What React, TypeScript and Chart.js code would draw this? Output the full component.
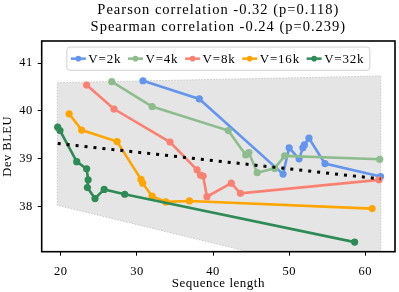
import React, { useEffect, useRef } from 'react';
import { Chart, registerables } from 'chart.js';

Chart.register(...registerables);

const FONT = '"Liberation Serif", "Times New Roman", serif';

const TITLE_LINES = ['Pearson correlation -0.32 (p=0.118)', 'Spearman correlation -0.24 (p=0.239)'];
const X_LABEL = 'Sequence length';
const Y_LABEL = 'Dev BLEU';
const X_TICKS = [20, 30, 40, 50, 60];
const Y_TICKS = [38, 39, 40, 41];
const X_MIN = 17.5;
const X_MAX = 63.9;
const Y_MIN = 37.06;
const Y_MAX = 41.46;

const SERIES_NAMES = ['V=2k', 'V=4k', 'V=8k', 'V=16k', 'V=32k'];
const SERIES_COLORS = ['#6495ED', '#8FBC8F', '#FA8072', '#FFA500', '#2E8B57'];

const V2K_LEN = [30.8, 38.2, 49.2, 50.0, 51.3, 51.8, 52.0, 52.6, 54.7, 62.0];
const V2K_BLEU = [40.63, 40.25, 38.68, 39.23, 39.0, 39.23, 39.29, 39.43, 38.9, 38.63];

const V4K_LEN = [26.7, 32.0, 42.0, 44.3, 44.7, 45.8, 48.1, 49.4, 61.9];
const V4K_BLEU = [40.61, 40.09, 39.59, 39.08, 39.13, 38.71, 38.8, 39.06, 38.99];

const V8K_LEN = [23.4, 27.0, 34.35, 37.9, 38.35, 38.7, 39.2, 42.4, 43.6, 61.8];
const V8K_BLEU = [40.54, 40.04, 39.35, 38.77, 38.66, 38.64, 38.21, 38.49, 38.28, 38.56];

const V16K_LEN = [21.1, 22.75, 27.4, 30.54, 30.76, 32.0, 33.8, 36.9, 60.9];
const V16K_BLEU = [39.94, 39.6, 39.36, 38.57, 38.49, 38.22, 38.1, 38.12, 37.96];

const V32K_LEN = [19.6, 19.9, 22.1, 23.4, 23.6, 23.5, 24.5, 25.7, 28.4, 58.6];
const V32K_BLEU = [39.66, 39.59, 38.94, 38.79, 38.56, 38.4, 38.17, 38.36, 38.26, 37.26];

const SERIES_LEN = [V2K_LEN, V4K_LEN, V8K_LEN, V16K_LEN, V32K_LEN];
const SERIES_BLEU = [V2K_BLEU, V4K_BLEU, V8K_BLEU, V16K_BLEU, V32K_BLEU];

const TREND_LEN = [19.6, 62.0];
const TREND_BLEU = [39.32, 38.58];

const BAND_LEN = [19.55, 62.03, 62.03, 19.55];
const BAND_BLEU = [40.59, 40.73, 36.39, 38.03];

const toPoints = (xs: number[], ys: number[]) => xs.map((x, i) => ({ x, y: ys[i] }));

const bandPlugin = {
  id: 'band',
  beforeDatasetsDraw(chart: any) {
    const { ctx, chartArea, scales } = chart;
    ctx.save();
    ctx.beginPath();
    ctx.rect(chartArea.left, chartArea.top, chartArea.right - chartArea.left, chartArea.bottom - chartArea.top);
    ctx.clip();
    ctx.beginPath();
    BAND_LEN.forEach((x, i) => {
      const px = scales.x.getPixelForValue(x);
      const py = scales.y.getPixelForValue(BAND_BLEU[i]);
      if (i === 0) ctx.moveTo(px, py);
      else ctx.lineTo(px, py);
    });
    ctx.closePath();
    ctx.fillStyle = '#e5e5e5';
    ctx.fill();
    ctx.setLineDash([1.5, 1.5]);
    ctx.strokeStyle = '#c8c8c8';
    ctx.lineWidth = 1;
    ctx.stroke();
    ctx.restore();
  },
};

const framePlugin = {
  id: 'frame',
  afterDraw(chart: any) {
    const { ctx, chartArea } = chart;
    ctx.save();
    ctx.strokeStyle = '#000';
    ctx.lineWidth = 1.6;
    ctx.strokeRect(chartArea.left, chartArea.top, chartArea.right - chartArea.left, chartArea.bottom - chartArea.top);
    ctx.restore();
  },
};

const titlePlugin = {
  id: 'twoLineTitle',
  afterDraw(chart: any) {
    const { ctx, chartArea } = chart;
    const cx = (chartArea.left + chartArea.right) / 2;
    ctx.save();
    ctx.fillStyle = '#000';
    ctx.font = `14.5px ${FONT}`;
    (ctx as any).letterSpacing = '1px';
    ctx.textAlign = 'center';
    ctx.textBaseline = 'alphabetic';
    ctx.fillText(TITLE_LINES[0], cx, 14);
    ctx.fillText(TITLE_LINES[1], cx, 30.5);
    ctx.restore();
  },
};

const legendPlugin = {
  id: 'boxLegend',
  afterDatasetsDraw(chart: any) {
    const { ctx, chartArea } = chart;
    ctx.save();
    ctx.font = `13px ${FONT}`;
    (ctx as any).letterSpacing = '0.8px';
    const handle = 15;
    const gapText = 2.5;
    const gapItem = 6.7;
    const padL = 4;
    const padR = 5.5;
    const widths = SERIES_NAMES.map((n) => ctx.measureText(n).width);
    let total = padL + padR + gapItem * (SERIES_NAMES.length - 1);
    widths.forEach((w) => (total += handle + gapText + w));
    const left = (chartArea.left + chartArea.right) / 2 - total / 2;
    const top = chartArea.top + 6;
    const h = 23.3;
    ctx.beginPath();
    (ctx as any).roundRect(left, top, total, h, 3);
    ctx.fillStyle = 'rgba(255,255,255,0.85)';
    ctx.fill();
    ctx.strokeStyle = '#d0d0d0';
    ctx.lineWidth = 1;
    ctx.stroke();
    let x = left + padL;
    const cy = top + h / 2;
    SERIES_NAMES.forEach((name, i) => {
      ctx.strokeStyle = SERIES_COLORS[i];
      ctx.lineWidth = 2.5;
      ctx.beginPath();
      ctx.moveTo(x, cy);
      ctx.lineTo(x + handle, cy);
      ctx.stroke();
      ctx.fillStyle = SERIES_COLORS[i];
      ctx.beginPath();
      ctx.arc(x + handle / 2, cy, 2.8, 0, Math.PI * 2);
      ctx.fill();
      x += handle + gapText;
      ctx.fillStyle = '#000';
      ctx.textAlign = 'left';
      ctx.textBaseline = 'alphabetic';
      ctx.fillText(name, x, top + 15.7);
      x += widths[i] + gapItem;
    });
    ctx.restore();
  },
};

const spacingPlugin = {
  id: 'spacing',
  beforeDraw(chart: any) {
    (chart.ctx as any).letterSpacing = '0.5px';
  },
};

export default function App() {
  const canvasRef = useRef<HTMLCanvasElement>(null);

  useEffect(() => {
    document.body.style.margin = '0';
    const canvas = canvasRef.current;
    if (!canvas) return;
    const seriesSets = SERIES_NAMES.map((name, i) => ({
      label: name,
      data: toPoints(SERIES_LEN[i], SERIES_BLEU[i]),
      showLine: true,
      borderColor: SERIES_COLORS[i],
      backgroundColor: SERIES_COLORS[i],
      borderWidth: 2.6,
      pointRadius: 3.6,
      pointHoverRadius: 3.6,
      pointBorderWidth: 0,
      tension: 0,
      order: SERIES_NAMES.length - i,
    }));
    const chart = new Chart(canvas, {
      type: 'scatter',
      data: {
        datasets: [
          ...seriesSets,
          {
            label: 'trend',
            data: toPoints(TREND_LEN, TREND_BLEU),
            showLine: true,
            borderColor: '#000',
            borderWidth: 3,
            borderDash: [3, 6],
            pointRadius: 0,
            tension: 0,
            order: 0,
          } as any,
        ],
      },
      options: {
        animation: false,
        responsive: true,
        maintainAspectRatio: false,
        layout: { padding: { top: 41, right: 4, left: 0, bottom: 0 } },
        plugins: {
          legend: { display: false },
          title: { display: false },
          tooltip: { enabled: false },
        },
        scales: {
          x: {
            type: 'linear',
            min: X_MIN,
            max: X_MAX,
            afterBuildTicks: (s: any) => {
              s.ticks = X_TICKS.map((v) => ({ value: v }));
            },
            afterFit: (s: any) => {
              s.height = 40.3;
            },
            grid: { display: true, drawOnChartArea: false, drawTicks: true, tickLength: 4, color: '#000', lineWidth: 1 },
            border: { display: false },
            ticks: { color: '#000', font: { family: FONT, size: 12.5 }, padding: 9, maxRotation: 0, autoSkip: false },
            title: { display: true, text: X_LABEL, color: '#000', font: { family: FONT, size: 13 }, padding: { top: 0, bottom: 1 } },
          },
          y: {
            type: 'linear',
            min: Y_MIN,
            max: Y_MAX,
            afterBuildTicks: (s: any) => {
              s.ticks = Y_TICKS.map((v) => ({ value: v }));
            },
            afterFit: (s: any) => {
              s.width = 41.7;
            },
            grid: { display: true, drawOnChartArea: false, drawTicks: true, tickLength: 4, color: '#000', lineWidth: 1 },
            border: { display: false },
            ticks: { color: '#000', font: { family: FONT, size: 12.5 }, padding: 5, autoSkip: false },
            title: { display: true, text: Y_LABEL, color: '#000', font: { family: FONT, size: 12.5 }, padding: { top: 0, bottom: 0 } },
          },
        },
      },
      plugins: [spacingPlugin, bandPlugin, legendPlugin, framePlugin, titlePlugin],
    });
    return () => chart.destroy();
  }, []);

  return (
    <div style={{ width: 399, height: 292, position: 'relative' }}>
      <canvas ref={canvasRef} />
    </div>
  );
}
